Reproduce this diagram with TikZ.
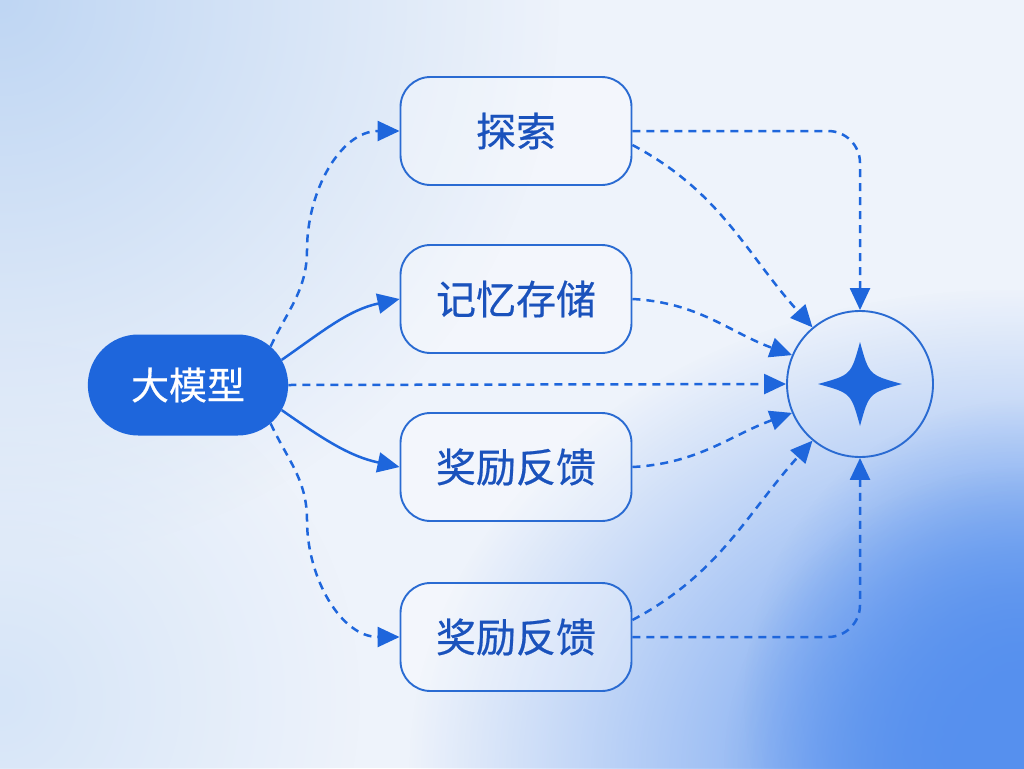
\documentclass[tikz,border=0pt]{standalone}
\usepackage{fontspec}
\newfontfamily\cjk[FakeBold=0.5]{Noto Sans CJK SC}
\usetikzlibrary{shapes.misc,arrows.meta,fadings}
\tikzfading[name=softblob, inner color=transparent!0, outer color=transparent!100]
\definecolor{bg}{HTML}{EEF3FB}
\definecolor{main}{HTML}{1E66DC}
\definecolor{edgec}{HTML}{2A6BD2}
\definecolor{txt}{HTML}{1A52BC}
\definecolor{blobbr}{HTML}{5690EE}
\definecolor{blobtl}{HTML}{BFD6F3}
\definecolor{blobbl}{HTML}{D6E5F8}
\begin{document}
\begin{tikzpicture}[x=1pt,y=-1pt,
  conn/.style={draw=main, line width=2.5pt, -{Triangle[length=22pt,width=20pt]}},
  dsh/.style={conn, dash pattern=on 8pt off 6pt},
  stepbox/.style={rectangle, rounded corners=30pt, minimum width=231pt, minimum height=108pt,
    draw=edgec, line width=1.9pt, fill=white, fill opacity=0.3, text opacity=1,
    text=txt, font=\cjk\fontsize{40}{42}\selectfont},
  bigbox/.style={rounded rectangle, minimum width=207pt, minimum height=101pt,
    fill=main, text=white, font=\cjk\fontsize{38}{40}\selectfont},
  hub/.style={circle, draw=edgec, line width=1.9pt, minimum size=146pt, inner sep=0pt}]
\useasboundingbox (0,0) rectangle (1024,768);
\begin{scope}
\clip (0,0) rectangle (1024,768);
\fill[bg] (0,0) rectangle (1024,768);
\fill[blobtl, path fading=softblob] (0,0) circle (560);
\fill[blobbl, path fading=softblob] (0,700) circle (360);
\fill[blobbr, path fading=softblob] (1010,768) ellipse (600 and 480);
\fill[blobbr, path fading=softblob] (1024,700) ellipse (280 and 300);
\fill[blobbr, path fading=softblob] (1024,768) circle (300);
\end{scope}

\node[bigbox] (big) at (188,385) {大模型};
\node[stepbox] (b1) at (516,131) {探索};
\node[stepbox] (b2) at (516,299) {记忆存储};
\node[stepbox] (b3) at (516,467) {奖励反馈};
\node[stepbox] (b4) at (516,637) {奖励反馈};
\node[hub] (c) at (860,384) {};
\fill[main] (860,342) .. controls (869,375) .. (902,384)
  .. controls (869,393) .. (860,426)
  .. controls (851,393) .. (818,384)
  .. controls (851,375) .. (860,342) -- cycle;

% from big
\draw[dsh] (big.25) to[out=65,in=-90] (307,250) to[out=90,in=180] (b1.west);
\draw[conn] (big.15) to[out=35,in=192] (b2.west);
\draw[dsh] (big.east) -- (c.west);
\draw[conn] (big.-15) to[out=-35,in=168] (b3.west);
\draw[dsh] (big.-25) to[out=-65,in=90] (307,520) to[out=-90,in=180] (b4.west);

% to hub
\draw[dsh, rounded corners=32pt] (b1.east) -| (c.north);
\draw[dsh] ([yshift=-14pt]b1.east) to[out=-28,in=132] (c.130);
\draw[dsh] (b2.east) to[out=-3,in=160] (c.157);
\draw[dsh] (b3.east) to[out=3,in=200] (c.203);
\draw[dsh] ([yshift=17pt]b4.east) to[out=28,in=228] (c.230);
\draw[dsh, rounded corners=32pt] (b4.east) -| (c.south);
\end{tikzpicture}
\end{document}
